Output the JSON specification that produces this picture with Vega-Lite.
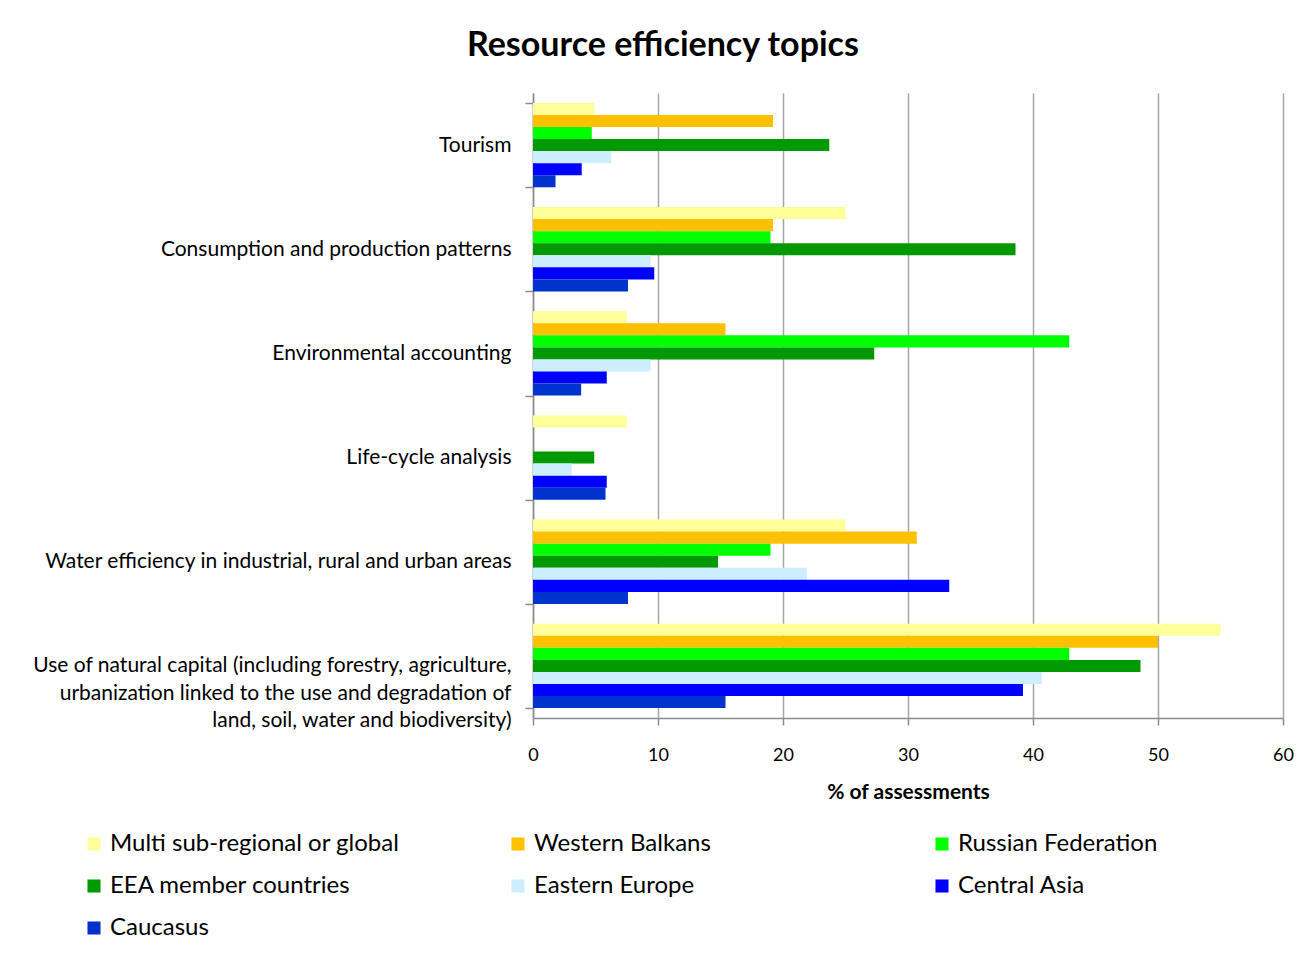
{
  "$schema": "https://vega.github.io/schema/vega-lite/v6.json",
  "width": 750,
  "height": 625,
  "autosize": {"type": "none"},
  "padding": {"left": 533, "top": 93, "right": 22, "bottom": 246},
  "background": "white",
  "title": {
    "text": "Resource efficiency topics",
    "font": "Lato",
    "fontSize": 34,
    "fontWeight": "bold",
    "color": "#000000",
    "anchor": "middle",
    "frame": "bounds",
    "offset": 19
  },
  "data": {
    "values": [
      {"topic": "Tourism", "region": "Multi sub-regional or global", "pct": 4.9},
      {"topic": "Tourism", "region": "Western Balkans", "pct": 19.2},
      {"topic": "Tourism", "region": "Russian Federation", "pct": 4.7},
      {"topic": "Tourism", "region": "EEA member countries", "pct": 23.7},
      {"topic": "Tourism", "region": "Eastern Europe", "pct": 6.25},
      {"topic": "Tourism", "region": "Central Asia", "pct": 3.9},
      {"topic": "Tourism", "region": "Caucasus", "pct": 1.8},
      {"topic": "Consumption and production patterns", "region": "Multi sub-regional or global", "pct": 25},
      {"topic": "Consumption and production patterns", "region": "Western Balkans", "pct": 19.2},
      {"topic": "Consumption and production patterns", "region": "Russian Federation", "pct": 19.0},
      {"topic": "Consumption and production patterns", "region": "EEA member countries", "pct": 38.6},
      {"topic": "Consumption and production patterns", "region": "Eastern Europe", "pct": 9.4},
      {"topic": "Consumption and production patterns", "region": "Central Asia", "pct": 9.7},
      {"topic": "Consumption and production patterns", "region": "Caucasus", "pct": 7.6},
      {"topic": "Environmental accounting", "region": "Multi sub-regional or global", "pct": 7.5},
      {"topic": "Environmental accounting", "region": "Western Balkans", "pct": 15.4},
      {"topic": "Environmental accounting", "region": "Russian Federation", "pct": 42.9},
      {"topic": "Environmental accounting", "region": "EEA member countries", "pct": 27.3},
      {"topic": "Environmental accounting", "region": "Eastern Europe", "pct": 9.4},
      {"topic": "Environmental accounting", "region": "Central Asia", "pct": 5.9},
      {"topic": "Environmental accounting", "region": "Caucasus", "pct": 3.85},
      {"topic": "Life-cycle analysis", "region": "Multi sub-regional or global", "pct": 7.5},
      {"topic": "Life-cycle analysis", "region": "Western Balkans", "pct": 0},
      {"topic": "Life-cycle analysis", "region": "Russian Federation", "pct": 0},
      {"topic": "Life-cycle analysis", "region": "EEA member countries", "pct": 4.9},
      {"topic": "Life-cycle analysis", "region": "Eastern Europe", "pct": 3.1},
      {"topic": "Life-cycle analysis", "region": "Central Asia", "pct": 5.9},
      {"topic": "Life-cycle analysis", "region": "Caucasus", "pct": 5.8},
      {"topic": "Water efficiency in industrial, rural and urban areas", "region": "Multi sub-regional or global", "pct": 25},
      {"topic": "Water efficiency in industrial, rural and urban areas", "region": "Western Balkans", "pct": 30.7},
      {"topic": "Water efficiency in industrial, rural and urban areas", "region": "Russian Federation", "pct": 19.0},
      {"topic": "Water efficiency in industrial, rural and urban areas", "region": "EEA member countries", "pct": 14.8},
      {"topic": "Water efficiency in industrial, rural and urban areas", "region": "Eastern Europe", "pct": 21.9},
      {"topic": "Water efficiency in industrial, rural and urban areas", "region": "Central Asia", "pct": 33.3},
      {"topic": "Water efficiency in industrial, rural and urban areas", "region": "Caucasus", "pct": 7.6},
      {"topic": "Use of natural capital (including forestry, agriculture, urbanization linked to the use and degradation of land, soil, water and biodiversity)", "region": "Multi sub-regional or global", "pct": 55},
      {"topic": "Use of natural capital (including forestry, agriculture, urbanization linked to the use and degradation of land, soil, water and biodiversity)", "region": "Western Balkans", "pct": 50},
      {"topic": "Use of natural capital (including forestry, agriculture, urbanization linked to the use and degradation of land, soil, water and biodiversity)", "region": "Russian Federation", "pct": 42.9},
      {"topic": "Use of natural capital (including forestry, agriculture, urbanization linked to the use and degradation of land, soil, water and biodiversity)", "region": "EEA member countries", "pct": 48.6},
      {"topic": "Use of natural capital (including forestry, agriculture, urbanization linked to the use and degradation of land, soil, water and biodiversity)", "region": "Eastern Europe", "pct": 40.7},
      {"topic": "Use of natural capital (including forestry, agriculture, urbanization linked to the use and degradation of land, soil, water and biodiversity)", "region": "Central Asia", "pct": 39.2},
      {"topic": "Use of natural capital (including forestry, agriculture, urbanization linked to the use and degradation of land, soil, water and biodiversity)", "region": "Caucasus", "pct": 15.4}
    ]
  },
  "mark": {"type": "bar"},
  "encoding": {
    "y": {
      "field": "topic",
      "type": "nominal",
      "sort": null,
      "scale": {"paddingInner": 0.19, "paddingOuter": 0.095},
      "axis": {
        "title": null,
        "tickBand": "extent",
        "tickSize": 8,
        "tickColor": "#8c8c8c",
        "tickWidth": 1.5,
        "domainColor": "#8c8c8c",
        "domainWidth": 1.5,
        "labelFont": "Lato",
        "labelFontSize": 21,
        "labelColor": "#000000",
        "labelPadding": 14,
        "labelLimit": 600,
        "labelLineHeight": 27.5,
        "labelExpr": "datum.value == 'Use of natural capital (including forestry, agriculture, urbanization linked to the use and degradation of land, soil, water and biodiversity)' ? ['Use of natural capital (including forestry, agriculture,', 'urbanization linked to the use and degradation of', 'land, soil, water and biodiversity)'] : datum.label",
        "encode": {
          "labels": {
            "update": {
              "align": {"signal": "datum.value == 'Use of natural capital (including forestry, agriculture, urbanization linked to the use and degradation of land, soil, water and biodiversity)' ? 'center' : 'right'"},
              "dx": {"signal": "datum.value == 'Use of natural capital (including forestry, agriculture, urbanization linked to the use and degradation of land, soil, water and biodiversity)' ? -241 : 0"}
            }
          }
        }
      }
    },
    "yOffset": {
      "field": "region",
      "type": "nominal",
      "sort": ["Multi sub-regional or global", "Western Balkans", "Russian Federation", "EEA member countries", "Eastern Europe", "Central Asia", "Caucasus"]
    },
    "x": {
      "field": "pct",
      "type": "quantitative",
      "scale": {"domain": [0, 60], "nice": false},
      "axis": {
        "title": "% of assessments",
        "titleFont": "Lato",
        "titleFontSize": 21,
        "titleFontWeight": "bold",
        "titleColor": "#000000",
        "titlePadding": 17,
        "values": [0, 10, 20, 30, 40, 50, 60],
        "grid": true,
        "gridColor": "#a6a6a6",
        "gridWidth": 1.5,
        "domainColor": "#8c8c8c",
        "domainWidth": 1.5,
        "tickColor": "#8c8c8c",
        "tickWidth": 1.5,
        "tickSize": 7,
        "labelFont": "Lato",
        "labelFontSize": 18,
        "labelColor": "#000000",
        "labelPadding": 21,
        "labelFlush": false
      }
    },
    "color": {
      "field": "region",
      "type": "nominal",
      "scale": {
        "domain": ["Multi sub-regional or global", "Western Balkans", "Russian Federation", "EEA member countries", "Eastern Europe", "Central Asia", "Caucasus"],
        "range": ["#ffff99", "#ffc000", "#00ff00", "#009900", "#cceeff", "#0000ff", "#0033cc"]
      },
      "legend": {
        "title": null,
        "orient": "none",
        "legendX": -451,
        "legendY": 739,
        "padding": 0,
        "direction": "horizontal",
        "columns": 3,
        "gridAlign": "all",
        "columnPadding": 106,
        "rowPadding": 18,
        "symbolType": "square",
        "symbolSize": 170,
        "labelOffset": 4,
        "labelFont": "Lato",
        "labelFontSize": 24,
        "labelColor": "#000000",
        "labelLimit": 400
      }
    }
  },
  "config": {
    "view": {"stroke": null}
  }
}
